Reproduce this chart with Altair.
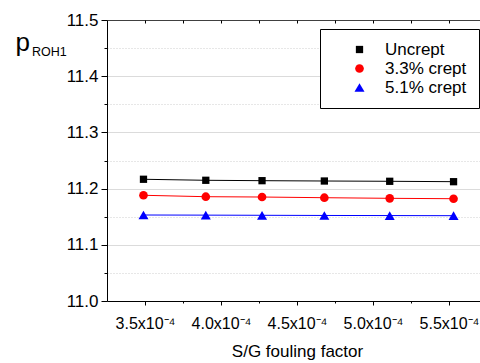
import altair as alt
import pandas as pd

# ---- data ----
fouling = [3.49e-4, 3.90e-4, 4.27e-4, 4.68e-4, 5.11e-4, 5.53e-4]
uncrept = [11.2166, 11.2148, 11.2141, 11.2135, 11.2130, 11.2123]
crept_33 = [11.1881, 11.1856, 11.1850, 11.1838, 11.1827, 11.1820]
crept_51 = [11.1530, 11.1528, 11.1525, 11.1522, 11.1520, 11.1518]

series_names = ["Uncrept", "3.3% crept", "5.1% crept"]
series_colors = ["#000000", "#ff0000", "#0000ff"]
series_shapes = ["square", "circle", "triangle-up"]
series_sizes = [53, 75, 100]

x_tick_values = [3.5e-4, 3.75e-4, 4.0e-4, 4.25e-4, 4.5e-4, 4.75e-4, 5.0e-4, 5.25e-4, 5.5e-4]
y_tick_values = [11.0, 11.05, 11.1, 11.15, 11.2, 11.25, 11.3, 11.35, 11.4, 11.45, 11.5]
x_domain = [3.25e-4, 5.704e-4]
y_domain = [11.0, 11.5]

rows = []
for name, vals in zip(series_names, [uncrept, crept_33, crept_51]):
    for xv, yv in zip(fouling, vals):
        rows.append({"factor": xv, "p": yv, "series": name})
df = pd.DataFrame(rows)

FONT = "Liberation Sans"

x_major = "abs(datum.value*2e4 - round(datum.value*2e4)) < 0.01"
y_major = "abs(datum.value*10 - round(datum.value*10)) < 0.001"

x_scale = alt.Scale(domain=x_domain, nice=False, zero=False)
y_scale = alt.Scale(domain=y_domain, nice=False, zero=False)
color_scale = alt.Scale(domain=series_names, range=series_colors)
shape_scale = alt.Scale(domain=series_names, range=series_shapes)
size_scale = alt.Scale(type="ordinal", domain=series_names, range=series_sizes)

bottom_axis = alt.Axis(
    orient="bottom",
    values=x_tick_values,
    labelExpr=f"({x_major}) ? format(datum.value*1e4, '.1f') + 'x10\u207b\u2074' : ''",
    grid=False,
    domainColor="black",
    tickColor="black",
    tickSize={"condition": {"test": x_major, "value": 4}, "value": 2},
    labelFontSize=16,
    labelColor="black",
    labelPadding=10,
    labelFlush=False,
    title="S/G fouling factor",
    titleFontSize=17,
    titleFontWeight="normal",
    titleColor="black",
    titleX=190,
    titleY=55,
    titleAlign="center",
    titleBaseline="alphabetic",
)

top_axis = alt.Axis(
    orient="top",
    values=x_tick_values,
    labels=False,
    domain=False,
    grid=False,
    ticks=True,
    tickColor="black",
    tickSize=3,
    offset=-3,
    title="ROH1",
    titleFontSize=12.5,
    titleFontWeight="normal",
    titleColor="black",
    titleX=-75.5,
    titleY=32.7,
    titleAlign="left",
    titleBaseline="alphabetic",
)

hidden_top_axis = alt.Axis(
    orient="top",
    labels=False,
    domain=False,
    grid=False,
    ticks=False,
    title=None,
)

left_axis = alt.Axis(
    orient="left",
    values=y_tick_values,
    labelExpr=f"({y_major}) ? format(datum.value, '.1f') : ''",
    grid=True,
    gridColor={"condition": {"test": "datum.value > 11.49", "value": "#000000"}, "value": "#cfcfcf"},
    gridDash={"condition": {"test": y_major, "value": [1, 0]}, "value": [1, 2]},
    gridWidth=1,
    domainColor="black",
    tickColor="black",
    tickSize={"condition": {"test": y_major, "value": 6}, "value": 3},
    labelFontSize=17,
    labelColor="black",
    labelPadding=3,
    labelFlush=False,
    title="p",
    titleAngle=0,
    titleFontSize=26,
    titleFontWeight="normal",
    titleColor="black",
    titleX=-92,
    titleY=30,
    titleAlign="left",
    titleBaseline="alphabetic",
)

legend = alt.Legend(
    title="\u00a0",
    titleOrient="left",
    titleFontSize=1,
    titlePadding=19,
    orient="none",
    legendX=213,
    legendY=9,
    strokeColor="black",
    fillColor="white",
    padding=12,
    labelOffset=17,
    labelFontSize=17,
    labelColor="black",
    symbolStrokeWidth=0,
    rowPadding=1,
)

base = alt.Chart(df)

line_layers = [
    base.transform_filter(alt.datum.series == name)
    .mark_line(strokeWidth=1, color=col)
    .encode(
        x=alt.X("factor:Q", scale=x_scale, axis=top_axis if i == 0 else hidden_top_axis),
        y=alt.Y("p:Q", scale=y_scale, axis=left_axis),
    )
    for i, (name, col) in enumerate(zip(series_names, series_colors))
]

points = base.mark_point(filled=True, opacity=1).encode(
    x=alt.X("factor:Q", scale=x_scale, axis=bottom_axis),
    y=alt.Y("p:Q", scale=y_scale, axis=left_axis),
    color=alt.Color("series:N", scale=color_scale, legend=legend),
    shape=alt.Shape("series:N", scale=shape_scale, legend=legend),
    size=alt.Size("series:N", scale=size_scale, legend=legend),
)

chart = (
    alt.layer(*line_layers, points)
    .properties(
        width=373,
        height=281,
        autosize=alt.AutoSizeParams(type="none"),
        padding={"left": 107, "top": 20, "right": 0, "bottom": 62},
        background="white",
    )
    .configure(font=FONT)
    .configure_view(stroke=None)
)

chart.save("out.html", embed_options={"renderer": "svg", "actions": False})
